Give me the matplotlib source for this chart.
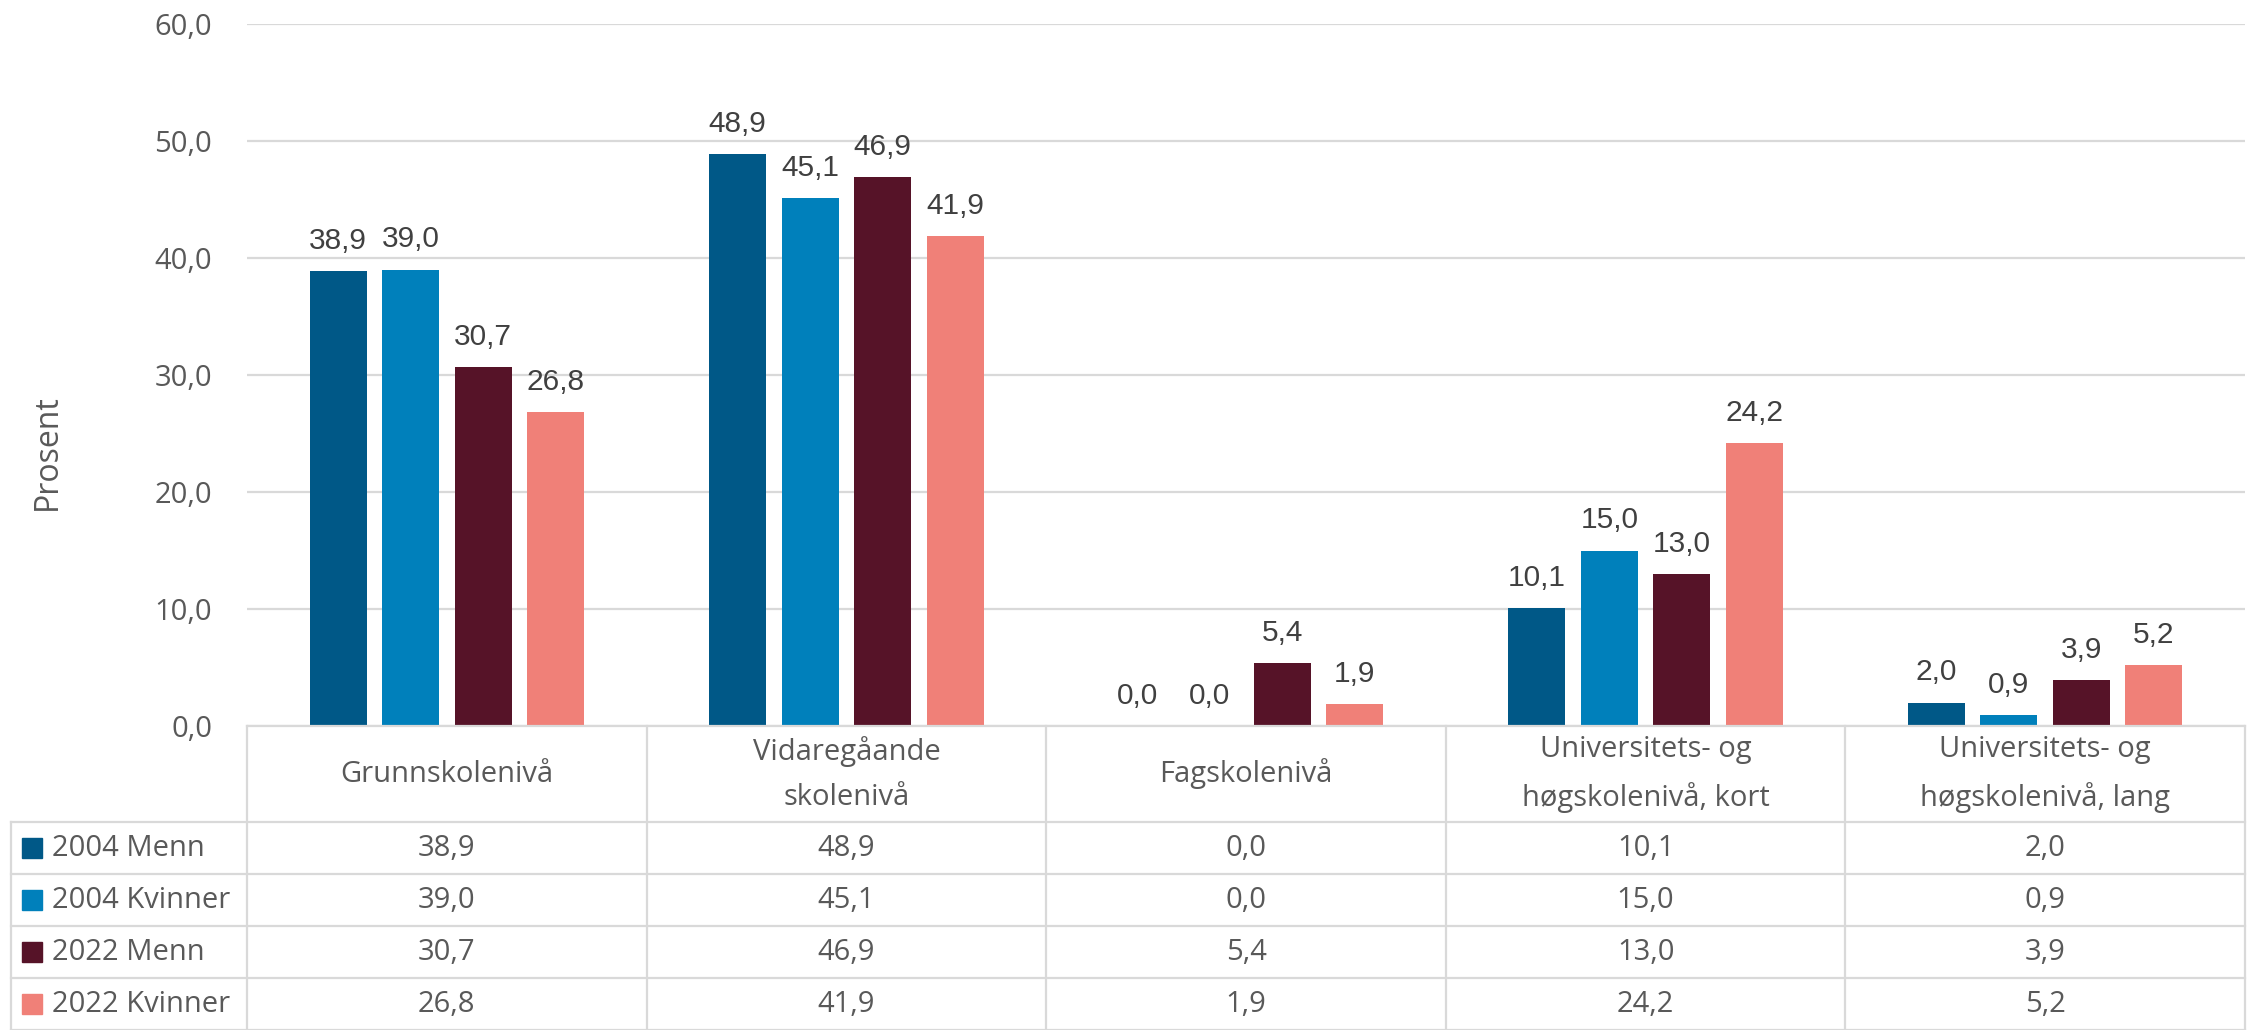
import numpy as np
import matplotlib
matplotlib.use('Agg')
import matplotlib.pyplot as plt
from matplotlib.patches import Rectangle

# data
kategorier = ['Grunnskolenivå', 'Vidaregåande\nskolenivå', 'Fagskolenivå',
              'Universitets- og\nhøgskolenivå, kort', 'Universitets- og\nhøgskolenivå, lang']
serier = ['2004 Menn', '2004 Kvinner', '2022 Menn', '2022 Kvinner']
menn_2004 = [38.9, 48.9, 0.0, 10.1, 2.0]
kvinner_2004 = [39.0, 45.1, 0.0, 15.0, 0.9]
menn_2022 = [30.7, 46.9, 5.4, 13.0, 3.9]
kvinner_2022 = [26.8, 41.9, 1.9, 24.2, 5.2]
verdier = [menn_2004, kvinner_2004, menn_2022, kvinner_2022]
farger = ['#005887', '#0080BB', '#561328', '#F08078']

plt.rcParams['font.family'] = ['Open Sans', 'DejaVu Sans']
tekst = '#595959'
linje = '#D9D9D9'
fs = 21


def komma(v):
    return f'{v:.1f}'.replace('.', ',')


W, H = 2254, 1030
fig = plt.figure(figsize=(W / 100, H / 100), dpi=100)

# plot area
x0, x1, y0, y1 = 247, 2245, 726, 24
ax = fig.add_axes([x0 / W, (H - y0) / H, (x1 - x0) / W, (y0 - y1) / H])
ax.set_xlim(-0.5, 4.5)
ax.set_ylim(0, 60)
for s in ax.spines.values():
    s.set_visible(False)
ax.set_yticks(range(0, 61, 10))
ax.set_yticklabels([komma(t) for t in range(0, 61, 10)], color=tekst, fontsize=fs)
ax.tick_params(axis='y', length=0, pad=25)
ax.set_xticks([])
ax.grid(axis='y', color=linje, linewidth=1.6)
ax.set_axisbelow(True)

x = np.arange(len(kategorier))
steg = 0.1814
bredde = 0.1427
for i, (navn, v, c) in enumerate(zip(serier, verdier, farger)):
    pos = x + (i - 1.5) * steg
    ax.bar(pos, v, width=bredde, color=c, zorder=3)
    for px, py in zip(pos, v):
        ax.annotate(komma(py), (px, py), xytext=(0, 16), textcoords='offset points',
                    ha='center', va='baseline', fontsize=21.5, color='#404040',
                    family='Liberation Sans')

fig.text(47 / W, (H - 452) / H, 'Prosent', rotation=90, ha='center', va='center',
         color=tekst, fontsize=fs + 2)

# data table below the axis
col_w = (x1 - x0) / 5
venstre = -0.5 - (x0 - 11) / col_w
tab = fig.add_axes([11 / W, 0, (x1 - 11) / W, (H - y0) / H])
tab.set_xlim(venstre, 4.5)
tab.set_ylim(H - y0, 0)
tab.axis('off')

topp = 96
rad = 52
lk = dict(color=linje, linewidth=1.6, clip_on=False)
tab.plot([-0.5, 4.5], [0, 0], **lk)
for r in range(5):
    yy = topp + r * rad
    tab.plot([venstre, 4.5], [yy, yy], **lk)
for k in range(6):
    tab.plot([k - 0.5, k - 0.5], [0, H - y0], **lk)
tab.plot([venstre, venstre], [topp, H - y0], **lk)

for k, kat in enumerate(kategorier):
    tab.text(k, topp / 2, kat, ha='center', va='center', fontsize=fs,
             color=tekst, linespacing=1.75)

for r, (navn, v, c) in enumerate(zip(serier, verdier, farger)):
    yc = topp + r * rad + rad / 2
    tab.add_patch(Rectangle((venstre + 11 / col_w, yc - 10), 20 / col_w, 20,
                            color=c, clip_on=False))
    tab.text(venstre + 41 / col_w, yc, navn, ha='left', va='center',
             fontsize=fs, color=tekst)
    for k, val in enumerate(v):
        tab.text(k, yc, komma(val), ha='center', va='center', fontsize=fs,
                 color=tekst)

fig.savefig('out.png', dpi=100, facecolor='white')
